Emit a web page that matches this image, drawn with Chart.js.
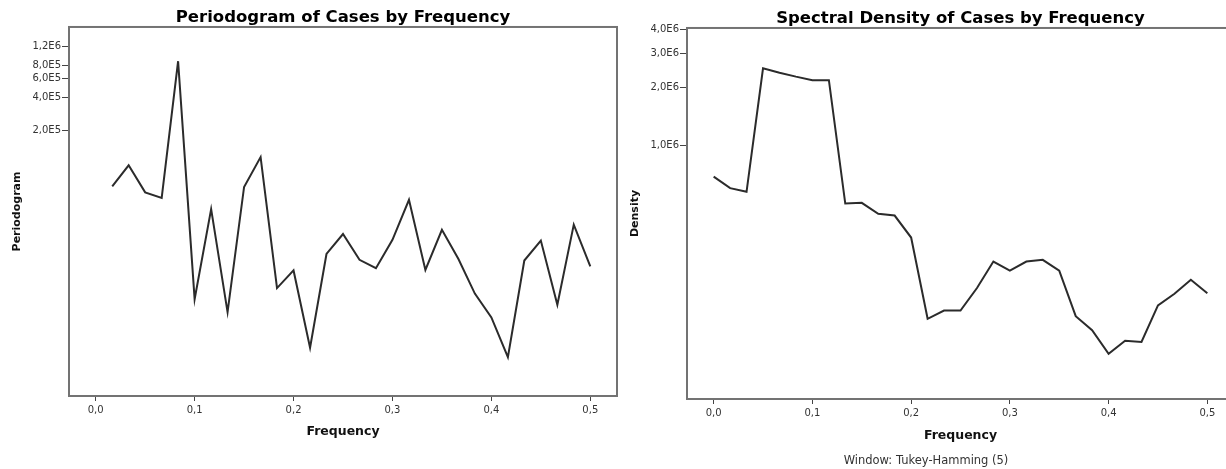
<!DOCTYPE html>
<html>
<head>
<meta charset="utf-8">
<script src="https://cdn.jsdelivr.net/npm/chart.js@4"></script>
<style>
  html, body { margin: 0; padding: 0; background: #fff; overflow: hidden; width: 1226px; height: 469px; }
  #left { position: absolute; left: 0; top: 0; }
  #right { position: absolute; left: 625px; top: 0; }
</style>
</head>
<body>
<canvas id="left" width="625" height="469"></canvas>
<canvas id="right" width="625" height="469"></canvas>
<script>
// frequencies (cycles per observation)
const freqP = [0.0167, 0.0333, 0.05, 0.0667, 0.0833, 0.1, 0.1167, 0.1333, 0.15, 0.1667,
               0.1833, 0.2, 0.2167, 0.2333, 0.25, 0.2667, 0.2833, 0.3, 0.3167, 0.3333,
               0.35, 0.3667, 0.3833, 0.4, 0.4167, 0.4333, 0.45, 0.4667, 0.4833, 0.5];
const periodogram = [61200, 95700, 53900, 47900, 871000, 5600, 37800, 4250, 60500, 114000,
                     7080, 10300, 2000, 14600, 22300, 12900, 10800, 19700, 46000, 10400,
                     24400, 13100, 6300, 3800, 1640, 12700, 19400, 4970, 27200, 11200];

const freqD = [0, 0.0167, 0.0333, 0.05, 0.0667, 0.0833, 0.1, 0.1167, 0.1333, 0.15, 0.1667,
               0.1833, 0.2, 0.2167, 0.2333, 0.25, 0.2667, 0.2833, 0.3, 0.3167, 0.3333,
               0.35, 0.3667, 0.3833, 0.4, 0.4167, 0.4333, 0.45, 0.4667, 0.4833, 0.5];
const density = [690000, 601000, 575000, 2520000, 2390000, 2280000, 2185000, 2185000, 500000, 504000, 442000,
                 433000, 333000, 126000, 139000, 139000, 182000, 250000, 224000, 250000, 255000,
                 224000, 130000, 110000, 83000, 97000, 95500, 148000, 170000, 201000, 171000];

const xTicks = [0, 0.1, 0.2, 0.3, 0.4, 0.5];
const xTickLabels = ['0,0', '0,1', '0,2', '0,3', '0,4', '0,5'];
const pTicks = [1200000, 800000, 600000, 400000, 200000];
const pTickLabels = ['1,2E6', '8,0E5', '6,0E5', '4,0E5', '2,0E5'];
const dTicks = [4000000, 3000000, 2000000, 1000000];
const dTickLabels = ['4,0E6', '3,0E6', '2,0E6', '1,0E6'];

Chart.defaults.font.family = 'DejaVu Sans';
Chart.defaults.color = '#333';

// grey frame around the plot area
const framePlugin = {
    id: 'frame',
    beforeDatasetsDraw(chart) {
        const a = chart.chartArea;
        const c = chart.ctx;
        c.save();
        c.strokeStyle = '#737373';
        c.lineWidth = 2;
        c.strokeRect(a.left, a.top, a.right - a.left, a.bottom - a.top);
        c.restore();
    }
};

const noteText = 'Window: Tukey-Hamming (5)';
const notePlugin = {
    id: 'note',
    afterDraw(chart) {
        const c = chart.ctx;
        c.save();
        c.font = '11.5px "DejaVu Sans"';
        c.fillStyle = '#333';
        c.textAlign = 'center';
        c.textBaseline = 'middle';
        c.fillText(noteText, 301, 461);
        c.restore();
    }
};

function makeChart(id, opts) {
    return new Chart(document.getElementById(id), {
        type: 'line',
        data: {
            datasets: [{
                data: opts.x.map((f, i) => ({ x: f, y: opts.y[i] })),
                borderColor: '#2b2b2b',
                borderWidth: 2,
                pointRadius: 0,
                tension: 0,
                fill: false
            }]
        },
        options: {
            responsive: false,
            animation: false,
            events: [],
            layout: { padding: opts.padding },
            plugins: {
                legend: { display: false },
                tooltip: { enabled: false },
                title: {
                    display: true,
                    text: opts.title,
                    fullSize: false,
                    color: '#000',
                    font: { size: 16.5, weight: 'bold', lineHeight: 1.15 },
                    padding: { top: 8, bottom: 0 }
                }
            },
            scales: {
                x: {
                    type: 'linear',
                    min: -0.027,
                    max: 0.527,
                    afterBuildTicks: s => { s.ticks = xTicks.map(v => ({ value: v })); },
                    afterFit: s => { s.height = 50; },
                    grid: { drawOnChartArea: false, tickLength: 5, color: '#444' },
                    border: { display: false },
                    ticks: {
                        autoSkip: false,
                        maxRotation: 0,
                        padding: 3,
                        font: { size: 10 },
                        callback: (v, i) => xTickLabels[i]
                    },
                    title: {
                        display: true,
                        text: 'Frequency',
                        color: '#111',
                        font: { size: 12.5, weight: 'bold' },
                        padding: { top: 0, bottom: opts.xTitlePad }
                    }
                },
                y: {
                    type: 'logarithmic',
                    min: opts.yMin,
                    max: opts.yMax,
                    afterBuildTicks: s => { s.ticks = opts.ticks.map(v => ({ value: v })); },
                    afterFit: s => { s.width = opts.yWidth; },
                    grid: { drawOnChartArea: false, tickLength: 7, color: '#444' },
                    border: { display: false },
                    ticks: {
                        autoSkip: false,
                        padding: 1,
                        font: { size: 10 },
                        callback: (v, i) => opts.tickLabels[i]
                    },
                    title: {
                        display: true,
                        text: opts.yTitle,
                        color: '#111',
                        font: { size: 11, weight: 'bold' },
                        padding: { top: opts.yTitlePad, bottom: 0 }
                    }
                }
            }
        },
        plugins: opts.plugins
    });
}

makeChart('left', {
    x: freqP, y: periodogram,
    title: 'Periodogram of Cases by Frequency',
    yTitle: 'Periodogram',
    yMin: 718, yMax: 1800000,
    ticks: pTicks, tickLabels: pTickLabels,
    yWidth: 69, yTitlePad: 11, xTitlePad: 6.5,
    padding: { left: 0, top: 0, right: 8, bottom: 23 },
    plugins: [framePlugin]
});

makeChart('right', {
    x: freqD, y: density,
    title: 'Spectral Density of Cases by Frequency',
    yTitle: 'Density',
    yMin: 48300, yMax: 4080000,
    ticks: dTicks, tickLabels: dTickLabels,
    yWidth: 62, yTitlePad: 3.5, xTitlePad: 5.5,
    padding: { left: 0, top: 1, right: 16, bottom: 20 },
    plugins: [framePlugin, notePlugin]
});
</script>
</body>
</html>
